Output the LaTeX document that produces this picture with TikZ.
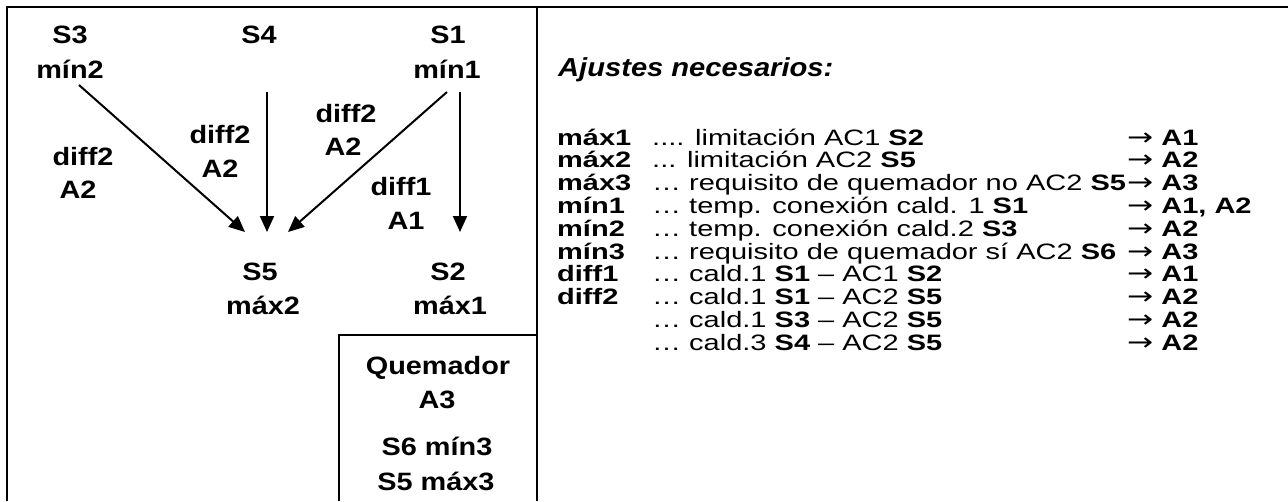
\documentclass[tikz,border=0pt]{standalone}
\usepackage{fontspec}
\setmainfont{Liberation Sans}
\newfontfamily\lblfont{Liberation Sans}[FakeStretch=1.15]
\newfontfamily\ttlfont{Liberation Sans}[FakeStretch=1.12]
\newfontfamily\lstfont{Liberation Sans}[FakeStretch=1.30]
\newfontfamily\arrfont{DejaVu Sans}[FakeStretch=1.3]
\newcommand{\rarr}{{\arrfont\fontsize{24}{25}\selectfont →}}
\usetikzlibrary{arrows.meta}
\tikzset{
  lbl/.style={font=\lblfont\bfseries\fontsize{25.1}{30}\selectfont, anchor=base, inner sep=0pt},
  ttl/.style={font=\ttlfont\bfseries\itshape\fontsize{26}{30}\selectfont, anchor=base west, inner sep=0pt},
  lst/.style={font=\lstfont\fontsize{22.3}{25}\selectfont, anchor=base west, inner sep=0pt},
  keycol/.style={font=\lstfont\bfseries\fontsize{22.3}{25}\selectfont, anchor=base west, inner sep=0pt},
  arr/.style={-{Triangle[length=16pt,width=14pt]}, line width=2pt},
  frame/.style={line width=2pt}
}
\begin{document}
\begin{tikzpicture}[x=1pt,y=-1pt]
\useasboundingbox (0,0) rectangle (1288,501);
% frames
\draw[frame] (7,501) -- (7,7) -- (1288,7);
\draw[frame] (537,7) -- (537,501);
\draw[frame] (339,501) -- (339,335) -- (537,335);
% left labels
\node[lbl] (s3) at (70,43) {S3};
\node[lbl] (min2) at (70,78) {mín2};
\node[lbl] (s4) at (259,43) {S4};
\node[lbl] (s1) at (448,43) {S1};
\node[lbl] (min1) at (447,78) {mín1};
\node[lbl] (d2a) at (83,165) {diff2};
\node[lbl] (d2aA) at (78,198) {A2};
\node[lbl] (d2b) at (220,143) {diff2};
\node[lbl] (d2bA) at (220,177) {A2};
\node[lbl] (d2c) at (346,122) {diff2};
\node[lbl] (d2cA) at (343,155) {A2};
\node[lbl] (d1) at (401,195) {diff1};
\node[lbl] (d1A) at (406,229) {A1};
\node[lbl] (s5) at (260,280) {S5};
\node[lbl] (max2) at (263,314) {máx2};
\node[lbl] (s2) at (448,280) {S2};
\node[lbl] (max1) at (450,314) {máx1};
\node[lbl] (qm) at (438,374) {Quemador};
\node[lbl] (qa3) at (437,408) {A3};
\node[lbl] (qs6) at (437,455) {S6 mín3};
\node[lbl] (qs5) at (436,490) {S5 máx3};
% arrows
\coordinate (a3s) at (79,85);   \coordinate (a3e) at (245,232);
\coordinate (a4s) at (267,92);  \coordinate (a4e) at (267,232);
\coordinate (a1s) at (447,92);  \coordinate (a1e) at (288,232);
\coordinate (a2s) at (460,92);  \coordinate (a2e) at (460,232);
\draw[arr] (a3s) -- (a3e);
\draw[arr] (a4s) -- (a4e);
\draw[arr] (a1s) -- (a1e);
\draw[arr] (a2s) -- (a2e);
% right side
\node[ttl] (title) at (558,76) {Ajustes necesarios:};
\node[keycol] (k1) at (557,145) {máx1};
\node[lst] (t1) at (652,145) {.... limitación AC1 \textbf{S2}};
\node[lst] (r1) at (1127,145) {\rarr{} \textbf{A1}};
\node[keycol] (k2) at (557,167.8) {máx2};
\node[lst] (t2) at (652,167.8) {... limitación AC2 \textbf{S5}};
\node[lst] (r2) at (1127,167.8) {\rarr{} \textbf{A2}};
\node[keycol] (k3) at (557,190.6) {máx3};
\node[lst] (t3) at (652,190.6) {… requisito de quemador no AC2 \textbf{S5}};
\node[lst] (r3) at (1127,190.6) {\rarr{} \textbf{A3}};
\node[keycol] (k4) at (557,213.4) {mín1};
\node[lst] (t4) at (652,213.4) {… temp. conexión cald. 1 \textbf{S1}};
\node[lst] (r4) at (1127,213.4) {\rarr{} \textbf{A1, A2}};
\node[keycol] (k5) at (557,236.2) {mín2};
\node[lst] (t5) at (652,236.2) {… temp. conexión cald.2 \textbf{S3}};
\node[lst] (r5) at (1127,236.2) {\rarr{} \textbf{A2}};
\node[keycol] (k6) at (557,259) {mín3};
\node[lst] (t6) at (652,259) {… requisito de quemador sí AC2 \textbf{S6}};
\node[lst] (r6) at (1127,259) {\rarr{} \textbf{A3}};
\node[keycol] (k7) at (557,281.8) {diff1};
\node[lst] (t7) at (652,281.8) {… cald.1 \textbf{S1} – AC1 \textbf{S2}};
\node[lst] (r7) at (1127,281.8) {\rarr{} \textbf{A1}};
\node[keycol] (k8) at (557,304.6) {diff2};
\node[lst] (t8) at (652,304.6) {… cald.1 \textbf{S1} – AC2 \textbf{S5}};
\node[lst] (r8) at (1127,304.6) {\rarr{} \textbf{A2}};
\node[lst] (t9) at (652,327.4) {… cald.1 \textbf{S3} – AC2 \textbf{S5}};
\node[lst] (r9) at (1127,327.4) {\rarr{} \textbf{A2}};
\node[lst] (t10) at (652,350.2) {… cald.3 \textbf{S4} – AC2 \textbf{S5}};
\node[lst] (r10) at (1127,350.2) {\rarr{} \textbf{A2}};
\end{tikzpicture}
\end{document}
